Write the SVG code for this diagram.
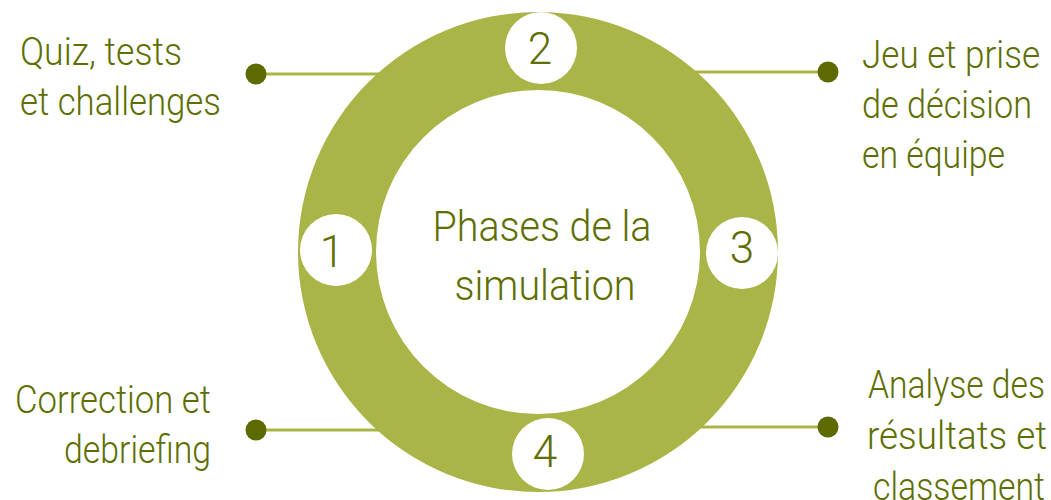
<svg xmlns="http://www.w3.org/2000/svg" width="1051" height="500" viewBox="0 0 1051 500">
<style>
.lbl{font-family:Roboto,"Liberation Sans",sans-serif;font-weight:300;font-size:38px;fill:#5e6e00}
.ctr{font-family:Roboto,"Liberation Sans",sans-serif;font-weight:300;font-size:42px;fill:#5e6e00}
.num{font-family:Roboto,"Liberation Sans",sans-serif;font-weight:300;font-size:44px;fill:#5e6e00;text-anchor:middle}
.conn{stroke:#a9b546;stroke-width:3;fill:none}
.dot{fill:#5c6a00}
.badge{fill:#ffffff}
</style>
<rect width="1051" height="500" fill="#ffffff"/>
<g id="connectors">
<line class="conn" x1="256" y1="74" x2="400" y2="74"/>
<line class="conn" x1="828" y1="72" x2="680" y2="72"/>
<line class="conn" x1="256" y1="430" x2="400" y2="430"/>
<line class="conn" x1="828" y1="427" x2="680" y2="427"/>
<circle class="dot" cx="256" cy="74" r="10.5"/>
<circle class="dot" cx="828" cy="72" r="10.5"/>
<circle class="dot" cx="256" cy="430" r="10.5"/>
<circle class="dot" cx="828" cy="427" r="10.5"/>
</g>
<g id="ring">
<path fill="#a9b546" fill-rule="evenodd" d="M298,252 a240,240 0 1,0 480,0 a240,240 0 1,0 -480,0 Z M376,252 a162,162 0 1,0 324,0 a162,162 0 1,0 -324,0 Z"/>
<text class="ctr" x="542" y="241" text-anchor="middle" textLength="219" lengthAdjust="spacingAndGlyphs">Phases de la</text>
<text class="ctr" x="545" y="300" text-anchor="middle" textLength="181" lengthAdjust="spacingAndGlyphs">simulation</text>
</g>
<g id="phase1">
<circle class="badge" cx="336" cy="250" r="36"/>
<text class="num" x="332" y="267">1</text>
</g>
<g id="phase2">
<circle class="badge" cx="541" cy="48" r="36"/>
<text class="num" x="540" y="64">2</text>
</g>
<g id="phase3">
<circle class="badge" cx="742" cy="253" r="36"/>
<text class="num" x="742" y="263">3</text>
</g>
<g id="phase4">
<circle class="badge" cx="548" cy="454" r="36"/>
<text class="num" x="545" y="467">4</text>
</g>
<g id="label-quiz">
<text class="lbl" x="20" y="65" textLength="162" lengthAdjust="spacingAndGlyphs">Quiz, tests</text>
<text class="lbl" x="20" y="115" textLength="201" lengthAdjust="spacingAndGlyphs">et challenges</text>
</g>
<g id="label-jeu">
<text class="lbl" x="862" y="68" textLength="178" lengthAdjust="spacingAndGlyphs">Jeu et prise</text>
<text class="lbl" x="862" y="118" textLength="170" lengthAdjust="spacingAndGlyphs">de décision</text>
<text class="lbl" x="862" y="168" textLength="143" lengthAdjust="spacingAndGlyphs">en équipe</text>
</g>
<g id="label-correction">
<text class="lbl" x="211" y="413" text-anchor="end" textLength="196" lengthAdjust="spacingAndGlyphs">Correction et</text>
<text class="lbl" x="211" y="463" text-anchor="end" textLength="147" lengthAdjust="spacingAndGlyphs">debriefing</text>
</g>
<g id="label-analyse">
<text class="lbl" x="868" y="398" textLength="177" lengthAdjust="spacingAndGlyphs">Analyse des</text>
<text class="lbl" x="867" y="449" textLength="180" lengthAdjust="spacingAndGlyphs">résultats et</text>
<text class="lbl" x="873" y="500" textLength="172" lengthAdjust="spacingAndGlyphs">classement</text>
</g>
</svg>
